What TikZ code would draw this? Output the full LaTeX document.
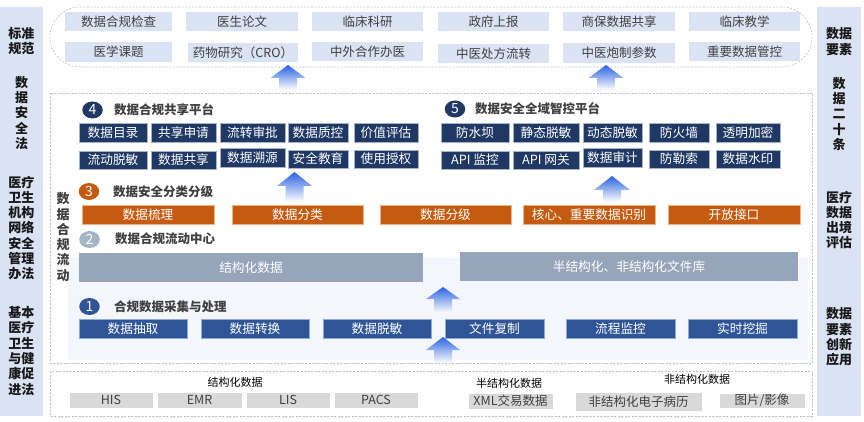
\documentclass[tikz,border=0pt]{standalone}
\usepackage{fontspec}
\setmainfont{Noto Sans CJK SC}
\usetikzlibrary{shapes.geometric}
\definecolor{sidebg}{HTML}{DAE3F3}
\definecolor{topbox}{HTML}{DAE3F3}
\definecolor{navy}{HTML}{1F3864}
\definecolor{navyline}{HTML}{A6B4C8}
\definecolor{orng}{HTML}{C55A11}
\definecolor{orngline}{HTML}{F4B183}
\definecolor{slate}{HTML}{97A5BA}
\definecolor{slatec}{HTML}{A5B3C6}
\definecolor{blu}{HTML}{2F5597}
\definecolor{bluline}{HTML}{8FAADC}
\definecolor{graybox}{HTML}{D9D9D9}
\definecolor{txtdark}{HTML}{404040}
\definecolor{lightfill}{HTML}{F3F6FD}
\definecolor{dashc}{HTML}{BFBFBF}
\definecolor{arrowblue}{HTML}{2B63E0}
\newcommand\mkbox[7]{\node[#1, minimum width={(#5-(#3))*1pt}, minimum height={(#6-(#4))*1pt}] (#2) at ({((#3)+(#5))/2},{((#4)+(#6))/2}) {#7};}
\newcommand\bigup[6]{\shade[top color=arrowblue, middle color=arrowblue!75, bottom color=white] (#1,#2) -- ({#1+#5},#3) -- ({#1+#6},#3) -- ({#1+#6},#4) -- ({#1-#6},#4) -- ({#1-#6},#3) -- ({#1-#5},#3) -- cycle;}
\tikzset{
  basebox/.style={rectangle, inner sep=0pt, outer sep=0pt, font=\fontsize{12.7}{15}\selectfont},
  topb/.style={basebox, fill=topbox, text=txtdark, font=\fontsize{12.5}{15}\selectfont},
  navyb/.style={basebox, fill=navy, draw=navyline, line width=0.8pt, text=white},
  orngb/.style={basebox, fill=orng, draw=orngline, line width=0.6pt, text=white},
  slateb/.style={basebox, fill=slate, text=white},
  blub/.style={basebox, fill=blu, draw=bluline, line width=0.6pt, text=white},
  grayb/.style={basebox, fill=graybox, draw=white, line width=0.6pt, text=txtdark, font=\fontsize{12.5}{15}\selectfont},
  sidetxt/.style={inner sep=0pt, align=center, text=black!90, font=\fontsize{13}{15.3}\selectfont\bfseries},
  numc/.style={ellipse, minimum width=20.5pt, minimum height=17pt, inner sep=0pt, text=white, font=\fontsize{14}{14}\selectfont},
  ttl/.style={anchor=west, inner sep=0pt, text=txtdark, font=\fontsize{12.5}{15}\selectfont\bfseries},
  srclbl/.style={inner sep=0pt, text=black, font=\fontsize{11}{13}\selectfont},
  dashbox/.style={draw=dashc, line width=0.6pt, dash pattern=on 2pt off 1.5pt}
}
\begin{document}
\begin{tikzpicture}[x=1pt,y=-1pt]
\useasboundingbox (0,0) rectangle (864,422);
% side bars
\fill[sidebg] (0,7) rectangle (43,416);
\fill[sidebg] (817,7) rectangle (861,416);
\node[sidetxt] (l1) at (21.5,41) {标准\\规范};
\node[sidetxt] (l2) at (21.5,113) {数\\据\\安\\全\\法};
\node[sidetxt] (l3) at (21.5,228) {医疗\\卫生\\机构\\网络\\安全\\管理\\办法};
\node[sidetxt] (l4) at (21.5,351) {基本\\医疗\\卫生\\与健\\康促\\进法};
\node[sidetxt] (r1) at (839,41.5) {数据\\要素};
\node[sidetxt] (r2) at (839,114) {数\\据\\二\\十\\条};
\node[sidetxt] (r3) at (839,220) {医疗\\数据\\出境\\评估};
\node[sidetxt] (r4) at (839,337) {数据\\要素\\创新\\应用};
% top region
\draw[dashbox, rounded corners=30pt] (50,7) rectangle (812,67);
\mkbox{topb}{t1}{65}{12}{172}{31}{数据合规检查}
\mkbox{topb}{t2}{186}{12}{298}{31}{医生论文}
\mkbox{topb}{t3}{312}{12}{423}{31}{临床科研}
\mkbox{topb}{t4}{438}{12}{549}{31}{政府上报}
\mkbox{topb}{t5}{563}{12}{675}{31}{商保数据共享}
\mkbox{topb}{t6}{689}{12}{800}{31}{临床教学}
\mkbox{topb}{t7}{65}{42}{172}{62}{医学课题}
\mkbox{topb}{t8}{188}{43}{298}{62}{药物研究（CRO）}
\mkbox{topb}{t9}{312}{42}{423}{61}{中外合作办医}
\mkbox{topb}{t10}{438}{44}{549}{63}{中医处方流转}
\mkbox{topb}{t11}{563}{43}{675}{63}{中医炮制参数}
\mkbox{topb}{t12}{689}{42}{800}{61}{重要数据管控}
% middle region
\fill[lightfill] (68,258) rectangle (808,360);
\draw[dashbox] (50,93) rectangle (812,363);
\bigup{288}{65}{78}{90}{17.5}{9}
\bigup{606}{65}{78}{90}{17.5}{9}
% section 4
\node[numc, fill=navy] (c4) at (92.5,110) {4};
\node[ttl] (h4) at (114,110) {数据合规共享平台};
\mkbox{navyb}{a1}{79}{123}{147}{142}{数据目录}
\mkbox{navyb}{a2}{151}{123}{216}{142}{共享申请}
\mkbox{navyb}{a3}{220}{123}{285}{142}{流转审批}
\mkbox{navyb}{a4}{288}{123}{348}{142}{数据质控}
\mkbox{navyb}{a5}{354}{123}{418}{142}{价值评估}
\mkbox{navyb}{a6}{79}{151}{147}{169}{流动脱敏}
\mkbox{navyb}{a7}{151}{151}{216}{169}{数据共享}
\mkbox{navyb}{a8}{220}{148}{285}{167}{数据溯源}
\mkbox{navyb}{a9}{288}{150}{348}{168}{安全教育}
\mkbox{navyb}{a10}{354}{150}{418}{168}{使用授权}
% section 5
\node[numc, fill=navy] (c5) at (455,109) {5};
\node[ttl] (h5) at (475,109) {数据安全全域智控平台};
\mkbox{navyb}{b1}{441}{123}{509}{142}{防水坝}
\mkbox{navyb}{b2}{513}{123}{579}{142}{静态脱敏}
\mkbox{navyb}{b3}{583}{123}{642}{142}{动态脱敏}
\mkbox{navyb}{b4}{649}{123}{709}{142}{防火墙}
\mkbox{navyb}{b5}{716}{123}{780}{142}{透明加密}
\mkbox{navyb}{b6}{441}{151}{509}{169}{API 监控}
\mkbox{navyb}{b7}{513}{151}{579}{169}{API 网关}
\mkbox{navyb}{b8}{583}{148}{642}{167}{数据审计}
\mkbox{navyb}{b9}{649}{150}{709}{168}{防勒索}
\mkbox{navyb}{b10}{716}{150}{780}{168}{数据水印}
\bigup{294.5}{172}{186}{202}{17.5}{9}
\bigup{612}{176}{190}{202}{18}{9}
% vertical label
\node[sidetxt, text=txtdark] (vlab) at (63,237) {数\\据\\合\\规\\流\\动};
% section 3
\node[numc, fill=orng] (c3) at (89,191.5) {3};
\node[ttl] (h3) at (113,191.5) {数据安全分类分级};
\mkbox{orngb}{o1}{82}{205}{214}{224}{数据梳理}
\mkbox{orngb}{o2}{232}{205}{363}{224}{数据分类}
\mkbox{orngb}{o3}{380}{205}{511}{224}{数据分级}
\mkbox{orngb}{o4}{523}{205}{655}{224}{核心、重要数据识别}
\mkbox{orngb}{o5}{668}{205}{800}{224}{开放接口}
% section 2
\node[numc, fill=slatec] (c2) at (89.5,239.5) {2};
\node[ttl] (h2) at (115,238.5) {数据合规流动中心};
\mkbox{slateb}{s1}{79}{253}{423}{282}{结构化数据}
\mkbox{slateb}{s2}{460}{252}{798}{281}{半结构化、非结构化文件库}
\bigup{443}{287}{299}{313}{17}{9}
% section 1
\node[numc, fill=blu] (c1) at (89.5,306.5) {1};
\node[ttl] (h1) at (114,306.5) {合规数据采集与处理};
\mkbox{blub}{p1}{79}{319}{187}{338}{数据抽取}
\mkbox{blub}{p2}{201}{319}{309}{338}{数据转换}
\mkbox{blub}{p3}{323}{319}{431}{338}{数据脱敏}
\mkbox{blub}{p4}{445}{319}{544}{338}{文件复制}
\mkbox{blub}{p5}{566}{319}{675}{338}{流程监控}
\mkbox{blub}{p6}{688}{319}{797}{338}{实时挖掘}
\bigup{443}{337}{350}{363}{17}{9}
% bottom region
\draw[dashbox] (50,371) rectangle (812,416);
\node[srclbl] (g1) at (235,382) {结构化数据};
\node[srclbl] (g2) at (509,383) {半结构化数据};
\node[srclbl] (g3) at (697,379) {非结构化数据};
\mkbox{grayb}{d1}{69}{392}{153}{408}{HIS}
\mkbox{grayb}{d2}{157}{392}{242}{408}{EMR}
\mkbox{grayb}{d3}{246}{392}{330}{408}{LIS}
\mkbox{grayb}{d4}{334}{392}{418}{408}{PACS}
\mkbox{grayb}{d5}{468}{393}{553}{409}{XML交易数据}
\mkbox{grayb}{d6}{575}{392}{702}{411}{非结构化电子病历}
\mkbox{grayb}{d7}{719}{393}{805}{408}{图片/影像}
\end{tikzpicture}
\end{document}
